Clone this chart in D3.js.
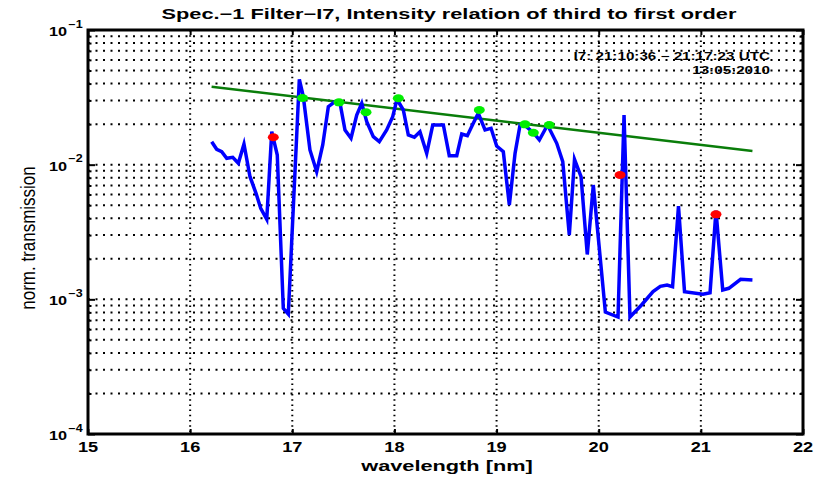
<!DOCTYPE html>
<html><head><meta charset="utf-8">
<script src="https://cdn.jsdelivr.net/npm/d3@7/dist/d3.min.js"></script>
<style>
body{margin:0;background:#fff}
svg{display:block}
text{font-family:"Liberation Sans",Arial,Helvetica,sans-serif;fill:#000}
</style>
</head><body>
<svg id="chart" width="815" height="479"></svg>
<script>
// ---- data ----
const wavelength = [16.211,16.260,16.309,16.358,16.417,16.472,16.527,16.586,16.645,16.691,
  16.750,16.799,16.853,16.912,16.961,17.069,17.108,17.173,17.239,17.298,
  17.353,17.418,17.467,17.516,17.575,17.631,17.680,17.729,17.793,17.852,
  17.924,17.983,18.025,18.087,18.136,18.195,18.250,18.316,18.375,18.479,
  18.537,18.610,18.659,18.714,18.772,18.821,18.887,18.946,19.001,19.066,
  19.125,19.181,19.230,19.278,19.360,19.419,19.499,19.589,19.648,19.712,
  19.763,19.827,19.888,19.947,20.065,20.189,20.248,20.306,20.419,20.532,
  20.603,20.669,20.723,20.781,20.840,21.021,21.090,21.148,21.214,21.274,
  21.389,21.505];
const transmission = [0.01481,0.01300,0.01248,0.01115,0.01134,0.01024,0.01424,0.00814,0.00613,0.00474,
  0.00393,0.01757,0.01179,0.000858,0.000778,0.04304,0.03198,0.01285,0.00887,0.01400,
  0.02694,0.02935,0.02871,0.01809,0.01570,0.02338,0.02855,0.02085,0.01613,0.01481,
  0.01809,0.02271,0.03058,0.02547,0.01661,0.01597,0.01757,0.01214,0.01970,0.01970,
  0.01166,0.01166,0.01689,0.01641,0.02029,0.02407,0.01809,0.01863,0.01376,0.01248,
  0.00502,0.01214,0.01970,0.01953,0.01727,0.01525,0.01970,0.01441,0.01052,0.003003,
  0.01096,0.00814,0.002153,0.00706,0.000805,0.000739,0.02338,0.000739,0.000908,0.001143,
  0.00125,0.001278,0.001241,0.00493,0.00114,0.00109,0.00112,0.00455,0.001173,0.001208,
  0.001408,0.001391];
const redWl = [16.814, 20.209, 21.148];
const redVal = [0.01597, 0.00838, 0.00428];
const greenWl = [17.100, 17.457, 17.722, 18.038, 18.831, 19.278, 19.360, 19.516];
const greenVal = [0.03127, 0.02904, 0.02449, 0.03111, 0.02547, 0.01994, 0.01727, 0.01970];
const fitWl = [16.21, 21.505];
const fitVal = [0.0379, 0.01264];
const xTicks = [15,16,17,18,19,20,21,22];
const yMajor = [1e-4,1e-3,1e-2,1e-1];
const yExp = ["\u22124","\u22123","\u22122","\u22121"];
const titleText = "Spec.\u22121 Filter\u2212I7, Intensity relation of third to first order";
const xLabelText = "wavelength [nm]";
const yLabelText = "norm. transmission";
const note1 = "I7: 21:10:36 \u2212 21:17:23 UTC";
const note2 = "13:05:2010";

// ---- layout ----
const L = 88, R = 803, T = 30, B = 434;
const svg = d3.select("#chart");
const x = d3.scaleLinear().domain([15,22]).range([L,R]);
const y = d3.scaleLog().domain([1e-4,1e-1]).range([B,T]);

const yMinor = [];
[-4,-3,-2].forEach(d => { for (let k=2;k<=9;k++) yMinor.push(k*Math.pow(10,d)); });
const yGrid = yMinor.concat([1e-3,1e-2]);

// grid
const grid = svg.append("g");
grid.selectAll("line.h").data(yGrid).join("line")
  .attr("x1",L).attr("x2",R).attr("y1",d=>y(d)).attr("y2",d=>y(d))
  .attr("stroke","#000").attr("stroke-width",2).attr("stroke-dasharray","2,5.5");
grid.selectAll("line.v").data(xTicks.slice(1,-1)).join("line")
  .attr("y1",T).attr("y2",B).attr("x1",d=>x(d)).attr("x2",d=>x(d))
  .attr("stroke","#000").attr("stroke-width",2).attr("stroke-dasharray","1.5,3.7");

// axes ticks
function styleAxis(g){ g.select(".domain").remove(); g.selectAll("line").attr("stroke","#000").attr("stroke-width",2); g.selectAll("text").remove(); }
svg.append("g").attr("transform",`translate(0,${B})`).call(d3.axisBottom(x).tickValues(xTicks).tickSize(-5)).call(styleAxis);
svg.append("g").attr("transform",`translate(0,${T})`).call(d3.axisTop(x).tickValues(xTicks).tickSize(-5)).call(styleAxis);
svg.append("g").attr("transform",`translate(${L},0)`).call(d3.axisLeft(y).tickValues(yMajor).tickSize(-7)).call(styleAxis);
svg.append("g").attr("transform",`translate(${L},0)`).call(d3.axisLeft(y).tickValues(yMinor).tickSize(-3.5)).call(styleAxis);
svg.append("g").attr("transform",`translate(${R},0)`).call(d3.axisRight(y).tickValues(yMajor).tickSize(-7)).call(styleAxis);
svg.append("g").attr("transform",`translate(${R},0)`).call(d3.axisRight(y).tickValues(yMinor).tickSize(-3.5)).call(styleAxis);

// data
svg.append("defs").append("clipPath").attr("id","clip").append("rect")
  .attr("x",L).attr("y",T).attr("width",R-L).attr("height",B-T);
const plot = svg.append("g").attr("clip-path","url(#clip)");

const line = d3.line().x(d=>x(d[0])).y(d=>y(d[1]));
plot.append("path").datum(d3.zip(fitWl,fitVal)).attr("d",line)
  .attr("fill","none").attr("stroke","#0a7d0a").attr("stroke-width",2.4);
plot.append("path").datum(d3.zip(wavelength,transmission)).attr("d",line)
  .attr("fill","none").attr("stroke","#0000ff").attr("stroke-width",3.5)
  .attr("stroke-linejoin","miter").attr("stroke-miterlimit",6);
plot.selectAll("ellipse.g").data(d3.zip(greenWl,greenVal)).join("ellipse")
  .attr("cx",d=>x(d[0])).attr("cy",d=>y(d[1])).attr("rx",5.5).attr("ry",4)
  .attr("fill","#00ee00");
plot.selectAll("ellipse.r").data(d3.zip(redWl,redVal)).join("ellipse")
  .attr("cx",d=>x(d[0])).attr("cy",d=>y(d[1])).attr("rx",5.5).attr("ry",4)
  .attr("fill","#ff0000");

// frame
svg.append("rect").attr("x",L).attr("y",T).attr("width",R-L).attr("height",B-T)
  .attr("fill","none").attr("stroke","#000").attr("stroke-width",3);

// text helper (horizontally stretched glyphs like the reference)
function txt(px,py,str,size,weight,anchor,sx){
  return svg.append("text")
    .attr("transform",`translate(${px},${py}) scale(${sx},1)`)
    .attr("font-size",size).attr("font-weight",weight).attr("text-anchor",anchor)
    .text(str);
}

// x tick labels
xTicks.forEach(v => txt(x(v), 452, String(v), 14, "bold", "middle", 1.3));
// y tick labels
yMajor.forEach((v,i) => {
  txt(67, y(v)+6, "10", 13, "bold", "end", 1.25);
  txt(68.5, y(v)-2.5, yExp[i], 10, "bold", "start", 1.25);
});

txt(449, 19, titleText, 14.5, "bold", "middle", 1.5);
txt(447, 471, xLabelText, 15, "bold", "middle", 1.45);
svg.append("text").attr("transform",`translate(35,${(T+B)/2+6}) rotate(-90) scale(1,1.15)`)
  .attr("font-size",17).attr("text-anchor","middle").text(yLabelText);

txt(770, 59.5, note1, 10.5, "bold", "end", 1.45);
txt(770, 73.5, note2, 10.5, "bold", "end", 1.45);
</script>
</body></html>
